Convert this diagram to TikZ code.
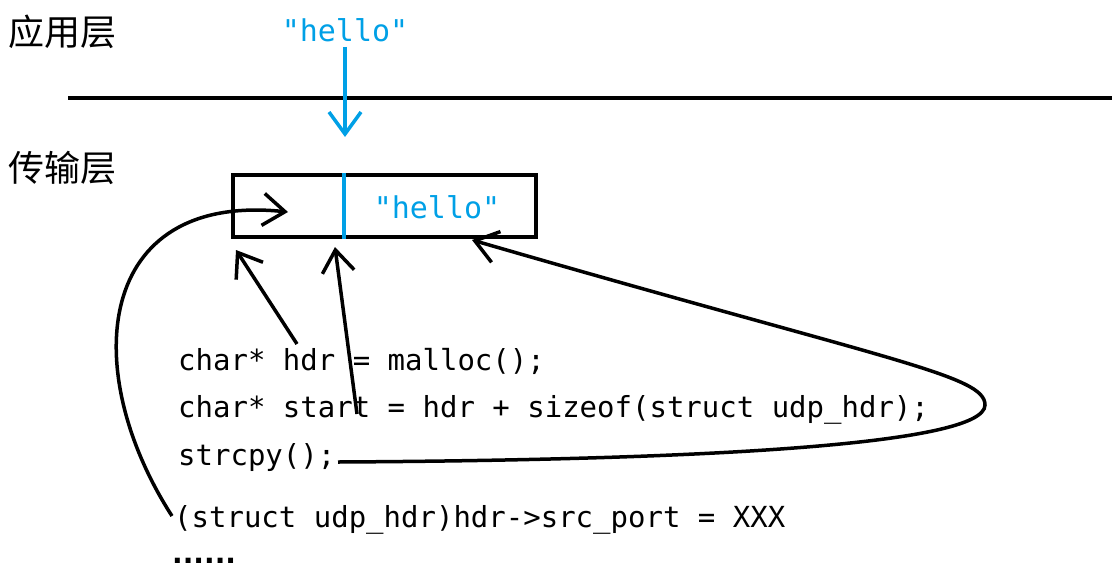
\documentclass[tikz,border=0pt]{standalone}
\usepackage{fontspec}
\setmonofont{DejaVu Sans Mono}
\newfontfamily\cjkfont{Noto Sans CJK SC}
\newfontfamily\dotfont{DejaVu Sans}
\usetikzlibrary{arrows.meta, positioning}
\definecolor{strblue}{RGB}{0,160,230}

\begin{document}
\begin{tikzpicture}[
    x=1pt, y=-1pt,
    layer/.style={font=\cjkfont\fontsize{36}{36}\selectfont, inner sep=0pt, anchor=west},
    code/.style={font=\ttfamily\fontsize{29}{29}\selectfont, inner sep=0pt, anchor=base west},
    str/.style={font=\ttfamily\fontsize{30}{30}\selectfont, text=strblue, inner sep=0pt},
    ptr/.style={line width=3.5pt, -{Straight Barb[length=22pt, width=32pt]}},
    copyin/.style={ptr, strblue},
  ]
    \useasboundingbox (0,0) rectangle (1116,571);
    % layers
    \node[layer] (app) at (8,32) {应用层};
    \node[layer] (trans) at (8,168) {传输层};
    \draw[line width=4.5pt] (68,98) -- (1112,98);
    % payload handed down
    \node[str] (msg) at (345,30) {"hello"};
    \coordinate (drop) at (345,137);
    \draw[copyin] (msg.south) ++(0,5) -- (drop);
    % buffer
    \node[draw, line width=4pt, minimum width=303pt, minimum height=62pt, inner sep=0pt]
          (buf) at (384.5,206) {};
    \coordinate (split) at (344,206);
    \draw[strblue, line width=3.5pt] (split |- buf.north) -- (split |- buf.south);
    \node[str] (payload) at (437,207) {"hello"};
    % code
    \node[code] (l1) at (178,370) {char* hdr = malloc();};
    \node[code] (l2) at (178,417) {char* start = hdr + sizeof(struct udp\_hdr);};
    \node[code] (l3) at (178,465) {strcpy();};
    \node[code] (l4) at (174,527) {(struct udp\_hdr)hdr->src\_port = XXX};
    \node[code, font=\dotfont\bfseries\fontsize{28}{28}\selectfont] (l5) at (172,563) {......};
    % pointers
    \coordinate (hdrtail) at (297,344);
    \coordinate (hdrtip) at (236,250);
    \coordinate (starttail) at (357,414);
    \coordinate (starttip) at (335,247);
    \coordinate (cpytail) at (338,462);
    \coordinate (cpyturn) at (985,405);
    \coordinate (cpytip) at (472,240);
    \coordinate (casttail) at (172,516);
    \coordinate (casttip) at (288,212);
    \draw[ptr] (hdrtail) -- (hdrtip);
    \draw[ptr] (starttail) -- (starttip);
    \draw[ptr] (cpytail) .. controls (700,460) and (985,445) .. (cpyturn)
                         .. controls (985,375) and (893,362) .. (cpytip);
    \draw[ptr] (casttail) .. controls (78,370) and (95,192) .. (casttip);
\end{tikzpicture}
\end{document}
